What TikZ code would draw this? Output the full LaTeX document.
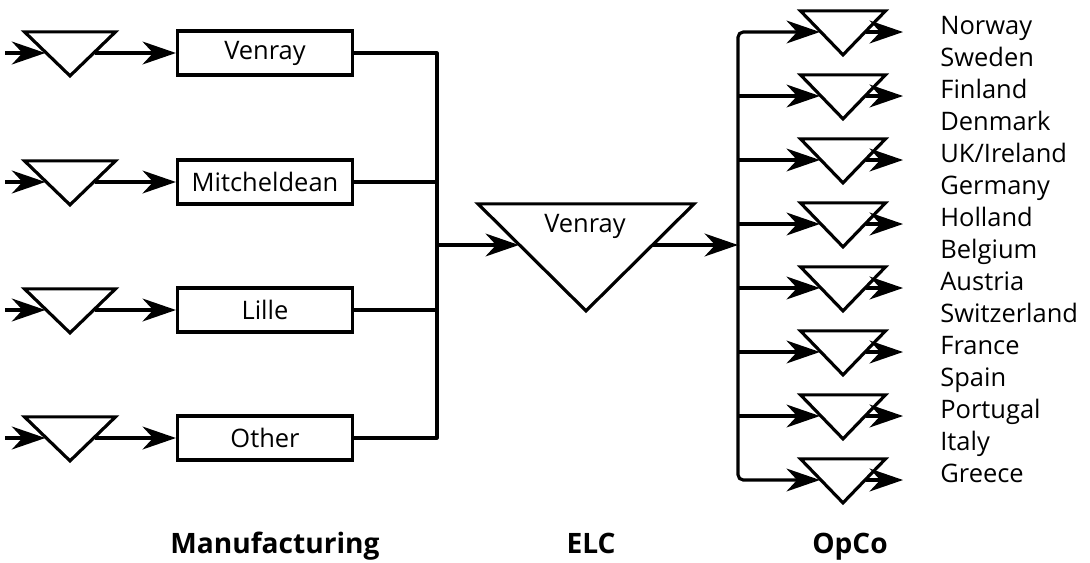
\documentclass[tikz,border=0pt]{standalone}
\usepackage{fontspec}
\setmainfont{Open Sans}
\usetikzlibrary{shapes.geometric,arrows.meta,calc}

\tikzset{
  stock/.style={draw, line width=1.8pt, isosceles triangle, isosceles triangle stretches,
    shape border rotate=-90, inner sep=0pt, minimum width=1.82cm, minimum height=0.88cm, anchor=apex},
  plant/.style={draw, line width=1.8pt, rectangle, minimum width=3.5cm, minimum height=0.88cm,
    inner sep=0pt, font=\fontsize{14.5}{17}\selectfont},
  flow/.style={line width=1.8pt, ->},
  feed/.style={line width=1.8pt, line join=round},
  land/.style={anchor=base west, inner sep=0pt, font=\fontsize{14.5}{17}\selectfont},
  stage/.style={anchor=base, inner sep=0pt, font=\fontsize{16}{19}\selectfont\bfseries},
}

\begin{document}
\begin{tikzpicture}[x=0.02cm, y=-0.02cm, >={Stealth[length=19pt, width=13pt, inset=6pt]}]
    \useasboundingbox (0,0) rectangle (1090,562);

    % manufacturing
    \node[stock] (s1) at (70,80) {};
    \node[stock] (s2) at (70,209) {};
    \node[stock] (s3) at (70,337) {};
    \node[stock] (s4) at (70,465) {};

    \node[plant] (p1) at (265,53) {Venray};
    \node[plant] (p2) at (265,182) {Mitcheldean};
    \node[plant] (p3) at (265,310) {Lille};
    \node[plant] (p4) at (265,438) {Other};

    \coordinate (a1) at (5,53);
    \coordinate (a2) at (5,182);
    \coordinate (a3) at (5,310);
    \coordinate (a4) at (5,438);

    \draw[flow] (a1) -- (a1 -| s1.right side);
    \draw[flow] (a2) -- (a2 -| s2.right side);
    \draw[flow] (a3) -- (a3 -| s3.right side);
    \draw[flow] (a4) -- (a4 -| s4.right side);

    \draw[flow] (p1.west -| s1.left side) -- (p1.west);
    \draw[flow] (p2.west -| s2.left side) -- (p2.west);
    \draw[flow] (p3.west -| s3.left side) -- (p3.west);
    \draw[flow] (p4.west -| s4.left side) -- (p4.west);

    \coordinate (busL) at (437,245);
    \draw[feed] (p1.east) -| (busL);
    \draw[feed] (p4.east) -| (busL);
    \draw[feed] (p2.east) -- (p2.east -| busL);
    \draw[feed] (p3.east) -- (p3.east -| busL);

    % ELC
    \node[stock, minimum width=4.32cm, minimum height=2.14cm] (elc) at (586,315) {};
    \node[anchor=base, inner sep=0pt, font=\fontsize{14.5}{17}\selectfont] (elcname) at (585,232) {Venray};
    \coordinate (elcin) at ($(elc.right corner)!0.4!(elc.apex)$);
    \coordinate (elcout) at ($(elc.left corner)!0.4!(elc.apex)$);
    \coordinate (busR) at (738,245);
    \draw[flow] (busL) -- (busL -| elcin);
    \draw[flow] (busR -| elcout) -- (busR);

    % OpCo
    \foreach \i in {1,...,8} {
        \node[stock, minimum width=1.7cm] (o\i) at (843,64*\i-5) {};
        \coordinate (r\i) at (738,64*\i-32);
        \coordinate (e\i) at (903,64*\i-32);
        \draw[flow] (e\i -| o\i.left side) -- (e\i);
    }
    \draw[flow, rounded corners=3pt] (busR) |- (r1 -| o1.right side);
    \draw[flow, rounded corners=3pt] (busR) |- (r8 -| o8.right side);
    \foreach \i in {2,...,7}
        \draw[flow] (r\i) -- (r\i -| o\i.right side);

    \node[land] (no) at (940,34) {Norway};
    \node[land] (se) at (940,66) {Sweden};
    \node[land] (fi) at (940,98) {Finland};
    \node[land] (dk) at (940,130) {Denmark};
    \node[land] (uk) at (940,162) {UK/Ireland};
    \node[land] (de) at (940,194) {Germany};
    \node[land] (nl) at (940,226) {Holland};
    \node[land] (be) at (940,258) {Belgium};
    \node[land] (at) at (940,290) {Austria};
    \node[land] (ch) at (940,322) {Switzerland};
    \node[land] (fr) at (940,354) {France};
    \node[land] (es) at (940,386) {Spain};
    \node[land] (pt) at (940,418) {Portugal};
    \node[land] (it) at (940,450) {Italy};
    \node[land] (gr) at (940,482) {Greece};

    \node[stage] (mfg) at (275,553) {Manufacturing};
    \node[stage] (elclab) at (591,553) {ELC};
    \node[stage] (opco) at (850,553) {OpCo};
\end{tikzpicture}
\end{document}
